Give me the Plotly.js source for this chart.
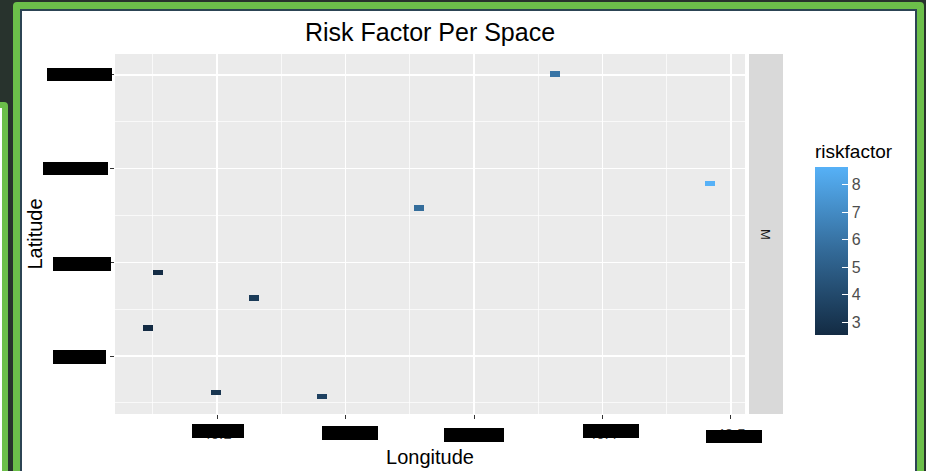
<!DOCTYPE html>
<html>
<head>
<meta charset="utf-8">
<script src="https://cdn.plot.ly/plotly-3.0.1.min.js"></script>
<style>
  html, body { margin:0; padding:0; width:926px; height:471px; overflow:hidden; background:#28332d; }
  #leftwin { position:absolute; left:-20px; top:102px; width:28px; height:420px; box-sizing:border-box;
             border:6px solid #6cbf4a; border-radius:4px; background:#ffffff; }
  #frame { position:absolute; left:13px; top:2px; width:911px; height:490px; box-sizing:border-box;
           border:7px solid #6cbf4a; border-radius:4px; background:#ffffff; box-shadow: inset 0 0 0 2px #2c4454; }
  #chart { position:absolute; left:0; top:0; width:926px; height:471px; }
</style>
</head>
<body>
<div id="leftwin"></div>
<div id="frame"></div>
<div id="chart"></div>
<script>
// ---- data ----
const longitude  = [40.363, 40.484, 40.257, 40.054, 40.129, 40.046, 40.099, 40.182];
const latitude   = [-73.699, -73.816, -73.842, -73.911, -73.938, -73.970, -74.039, -74.043];
const riskfactor = [6.0, 8.65, 5.7, 2.6, 3.3, 2.53, 3.0, 3.6];
const facetLabel = "M";

const xTickVals  = [40.1, 40.2, 40.3, 40.4, 40.5];
const xTickText  = ["40.1", "40.2", "40.3", "40.4", "40.5"];
const xMinorVals = [40.05, 40.15, 40.25, 40.35, 40.45];
const yTickVals  = [-74.0, -73.9, -73.8, -73.7];
const yTickText  = ["-74.0", "-73.9", "-73.8", "-73.7"];
const yMinorVals = [-74.05, -73.95, -73.85, -73.75];
const cbTickVals = [3, 4, 5, 6, 7, 8];

// tile size (geom_tile resolution)
const TILE_W = 0.0078;
const TILE_H = 0.0058;

// ---- layout helpers (pixel geometry of the panel) ----
const L = 115, R = 745, T = 54, B = 414, W = 926, H = 471;
const px = x => (x - L) / (R - L);
const py = y => (B - y) / (B - T);

const FONT = "Liberation Sans, Arial, sans-serif";

const trace = {
  type: "bar",
  x: longitude,
  y: longitude.map(() => TILE_H),
  base: latitude.map(v => v - TILE_H / 2),
  width: longitude.map(() => TILE_W),
  marker: {
    color: riskfactor,
    colorscale: [[0, "#132B43"], [0.5, "#336A98"], [1, "#56B1F7"]],
    line: { width: 0 },
    showscale: true,
    colorbar: {
      x: px(815), xanchor: "left", xpad: 0,
      y: py(238), yanchor: "middle", ypad: 0,
      len: 194, lenmode: "pixels",
      thickness: 33, thicknessmode: "pixels",
      outlinewidth: 0,
      ticks: "inside", ticklen: 6, tickwidth: 1, tickcolor: "#ffffff",
      tickvals: cbTickVals, tickprefix: "\u2002",
      tickfont: { family: FONT, size: 16, color: "#4d4d4d" },
      title: { text: "riskfactor", side: "top", font: { family: FONT, size: 19, color: "#000000" } }
    }
  },
  hoverinfo: "x+y"
};

// black redaction boxes over tick labels (pixel rects)
const boxes = [
  [192,424,244,438],[322,426,378,440],[444,428,504,442],[583,424,639,438],[706,430,762,443],
  [47,68,112,81],[43,162,108,175],[53,257,111,271],[53,350,106,364]
];
const shapes = [
  { type:"rect", xref:"paper", yref:"paper", x0:px(749), x1:px(783), y0:0, y1:1,
    fillcolor:"#D9D9D9", line:{width:0}, layer:"below" }
].concat(boxes.map(b => ({
  type:"rect", xref:"paper", yref:"paper", x0:px(b[0]), x1:px(b[2]), y0:py(b[3]), y1:py(b[1]),
  fillcolor:"#000000", line:{width:0}, layer:"above"
})));

const layout = {
  width: W, height: H,
  margin: { l: L, r: W - R, t: T, b: H - B, pad: 0 },
  paper_bgcolor: "rgba(0,0,0,0)",
  plot_bgcolor: "#EBEBEB",
  font: { family: FONT, color: "#000000" },
  showlegend: false,
  bargap: 0,
  title: { text: "Risk Factor Per Space", font: { family: FONT, size: 25, color: "#000000" },
           x: 0.5, xref: "paper", xanchor: "center", y: 1 - 32 / H, yref: "container", yanchor: "middle" },
  xaxis: {
    range: [40.0206, 40.5109], tickmode: "array", tickvals: xTickVals, ticktext: xTickText,
    ticks: "outside", ticklen: 4, tickwidth: 1, tickcolor: "#333333", ticklabelstandoff: 2,
    tickfont: { family: FONT, size: 15, color: "#4d4d4d" },
    showgrid: true, gridcolor: "#ffffff", gridwidth: 1.5,
    minor: { tickmode: "array", tickvals: xMinorVals, showgrid: true, gridcolor: "#ffffff", gridwidth: 0.7, ticks: "" },
    zeroline: false, showline: false, fixedrange: true,
    title: { text: "Longitude", font: { family: FONT, size: 20, color: "#000000" }, standoff: 8 }
  },
  yaxis: {
    range: [-74.0619, -73.6776], tickmode: "array", tickvals: yTickVals, ticktext: yTickText,
    ticks: "outside", ticklen: 4, tickwidth: 1, tickcolor: "#333333", ticklabelstandoff: 4,
    tickfont: { family: FONT, size: 15, color: "#4d4d4d" },
    showgrid: true, gridcolor: "#ffffff", gridwidth: 1.5,
    minor: { tickmode: "array", tickvals: yMinorVals, showgrid: true, gridcolor: "#ffffff", gridwidth: 0.7, ticks: "" },
    zeroline: false, showline: false, fixedrange: true,
    title: { text: "Latitude", font: { family: FONT, size: 20, color: "#000000" }, standoff: 20 }
  },
  shapes: shapes,
  annotations: [
    { text: facetLabel, xref: "paper", yref: "paper", x: px(766), y: 0.5, showarrow: false,
      textangle: 90, font: { family: FONT, size: 13, color: "#1a1a1a" }, xanchor: "center", yanchor: "middle" }
  ]
};

Plotly.newPlot("chart", [trace], layout, { displayModeBar: false, staticPlot: true });
</script>
</body>
</html>
